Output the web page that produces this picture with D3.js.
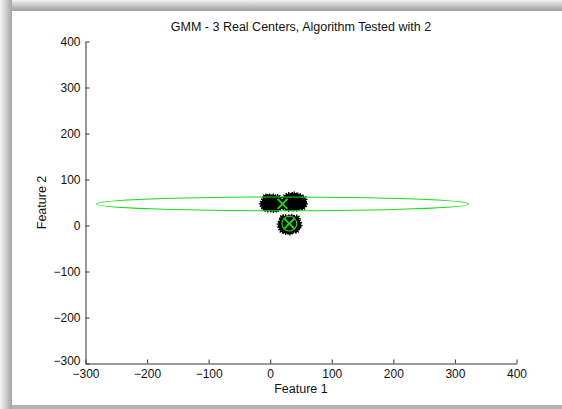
<!DOCTYPE html>
<html>
<head>
<meta charset="utf-8">
<script src="https://cdn.jsdelivr.net/npm/d3@7/dist/d3.min.js"></script>
<style>
  html, body { margin: 0; padding: 0; background: #fff; }
  svg { display: block; }
  text { font-family: Arial, "Liberation Sans", sans-serif; fill: #111; }
</style>
</head>
<body>
<svg id="chart" width="562" height="409"></svg>
<script>
// ---- data ----
const titleText = "GMM - 3 Real Centers, Algorithm Tested with 2";
const xLabel = "Feature 1";
const yLabel = "Feature 2";
const xDomain = [-300, 400];
const yDomain = [-300, 400];
const xTicks = [-300, -200, -100, 0, 100, 200, 300, 400];
const yTicks = [-300, -200, -100, 0, 100, 200, 300, 400];

// samples drawn around the three real centers
const clusterA = [
  [-12,47],[-10,42],[-10,52],[-8,38],[-8,46],[-8,57],[-6,43],[-6,51],[-5,60],[-4,37],
  [-3,47],[-2,41],[-2,55],[-1,61],[0,44],[1,50],[1,37],[2,58],[3,41],[4,47],
  [4,54],[5,36],[5,61],[6,44],[7,51],[7,39],[8,58],[9,46],[10,37],[10,54],
  [11,42],[12,60],[12,49],[13,38],[14,45],[14,56],[15,51],[16,42],[17,48],[-7,61]
];
const clusterB = [
  [22,50],[23,44],[24,56],[25,40],[26,61],[27,48],[28,53],[29,43],[30,64],[30,38],
  [31,58],[32,47],[33,52],[34,41],[35,62],[35,56],[36,45],[37,39],[38,50],[39,65],
  [40,55],[40,43],[41,60],[42,48],[43,39],[44,53],[45,63],[45,45],[47,57],[47,41],
  [48,50],[49,61],[50,46],[51,54],[52,41],[53,50],[54,57],[55,47],[36,64],[26,42]
];
const clusterC = [
  [17,3],[18,-4],[19,9],[20,-9],[21,14],[22,1],[23,6],[24,-6],[25,16],[25,-12],
  [26,11],[27,-2],[28,4],[29,-8],[30,15],[31,8],[31,-3],[32,-13],[33,2],[34,12],
  [35,-6],[35,17],[36,6],[37,-10],[38,0],[39,14],[40,-4],[41,9],[42,-9],[42,3],
  [43,15],[44,-2],[45,7],[46,0],[30,-11],[21,16]
];

// fitted components: [centerX, centerY], [semiAxisX, semiAxisY]
const fittedCenters = [[20, 47], [31, 4]];
const fittedAxes = [[302, 15], [12, 16]];

// ---- layout ----
const svg = d3.select("#chart");
const W = 562, H = 409;
const green = "#19dc19";

// window frame shading
const defs = svg.append("defs");
const gTop = defs.append("linearGradient").attr("id", "shTop").attr("x1", 0).attr("y1", 0).attr("x2", 0).attr("y2", 1);
gTop.append("stop").attr("offset", "0%").attr("stop-color", "#f2f2f2");
gTop.append("stop").attr("offset", "100%").attr("stop-color", "#9c9c9c");
const gLeft = defs.append("linearGradient").attr("id", "shLeft").attr("x1", 0).attr("y1", 0).attr("x2", 1).attr("y2", 0);
gLeft.append("stop").attr("offset", "0%").attr("stop-color", "#f4f4f4");
gLeft.append("stop").attr("offset", "100%").attr("stop-color", "#a4a4a4");

svg.append("rect").attr("x", 0).attr("y", 0).attr("width", W).attr("height", H).attr("fill", "#fff");
svg.append("rect").attr("x", 0).attr("y", 0).attr("width", W).attr("height", 11).attr("fill", "url(#shTop)");
svg.append("rect").attr("x", 0).attr("y", 0).attr("width", 12).attr("height", H).attr("fill", "url(#shLeft)");
svg.append("rect").attr("x", 12).attr("y", 405).attr("width", W - 12).attr("height", 4).attr("fill", "#b4b4b4");

const x = d3.scaleLinear().domain(xDomain).range([85.5, 516.5]);
const y = d3.scaleLinear().domain(yDomain).range([363.5, 41.5]);

// axes (ticks pointing inward, no box)
const axX = svg.append("g").attr("transform", `translate(0,${y(yDomain[0])})`)
  .call(d3.axisBottom(x).tickValues(xTicks).tickSize(-4).tickSizeOuter(0).tickPadding(6).tickFormat(d3.format("d")));
const axY = svg.append("g").attr("transform", `translate(${x(xDomain[0])},0)`)
  .call(d3.axisLeft(y).tickValues(yTicks).tickSize(-4).tickSizeOuter(0).tickPadding(5).tickFormat(d3.format("d")));
[axX, axY].forEach(a => {
  a.select(".domain").attr("stroke", "#333");
  a.selectAll(".tick line").attr("stroke", "#333");
  a.selectAll(".tick text").attr("font-size", 12).attr("fill", "#111")
    .attr("font-family", "Arial, 'Liberation Sans', sans-serif");
});
axY.selectAll(".tick text").attr("dy", "0.34em");
// lowest y label sits just above the corner so it clears the x label below
axY.selectAll(".tick text").filter(d => d === yDomain[0]).attr("dy", "0.1em");

// sample points as star markers
const star = s => `M${-s},0L${s},0M0,${-s}L0,${s}M${-s*0.7},${-s*0.7}L${s*0.7},${s*0.7}M${-s*0.7},${s*0.7}L${s*0.7},${-s*0.7}`;
const allPts = clusterA.concat(clusterB, clusterC);
svg.append("g").selectAll("path").data(allPts).join("path")
  .attr("transform", d => `translate(${x(d[0])},${y(d[1])})`)
  .attr("d", star(4))
  .attr("stroke", "#000").attr("stroke-width", 1.3).attr("fill", "none");
svg.append("g").selectAll("circle").data(allPts).join("circle")
  .attr("cx", d => x(d[0])).attr("cy", d => y(d[1])).attr("r", 2.4)
  .attr("fill", "#000");

// fitted component contours
svg.append("g").selectAll("ellipse").data(fittedCenters).join("ellipse")
  .attr("cx", d => x(d[0])).attr("cy", d => y(d[1]))
  .attr("rx", (d, i) => x(d[0] + fittedAxes[i][0]) - x(d[0]))
  .attr("ry", (d, i) => y(d[1]) - y(d[1] + fittedAxes[i][1]))
  .attr("fill", "none").attr("stroke", green).attr("stroke-width", 1.1);

// fitted centers as x markers
svg.append("g").selectAll("path").data(fittedCenters).join("path")
  .attr("transform", d => `translate(${x(d[0])},${y(d[1])})`)
  .attr("d", "M-5,-5L5,5M-5,5L5,-5")
  .attr("stroke", green).attr("stroke-width", 2).attr("fill", "none");

// titles
svg.append("text").attr("x", (x.range()[0] + x.range()[1]) / 2).attr("y", 31)
  .attr("text-anchor", "middle").attr("font-size", 12.5).text(titleText);
svg.append("text").attr("x", (x.range()[0] + x.range()[1]) / 2).attr("y", 393)
  .attr("text-anchor", "middle").attr("font-size", 12.5).text(xLabel);
svg.append("text").attr("transform", `translate(46,${(y.range()[0] + y.range()[1]) / 2}) rotate(-90)`)
  .attr("text-anchor", "middle").attr("font-size", 12.5).text(yLabel);
</script>
</body>
</html>
